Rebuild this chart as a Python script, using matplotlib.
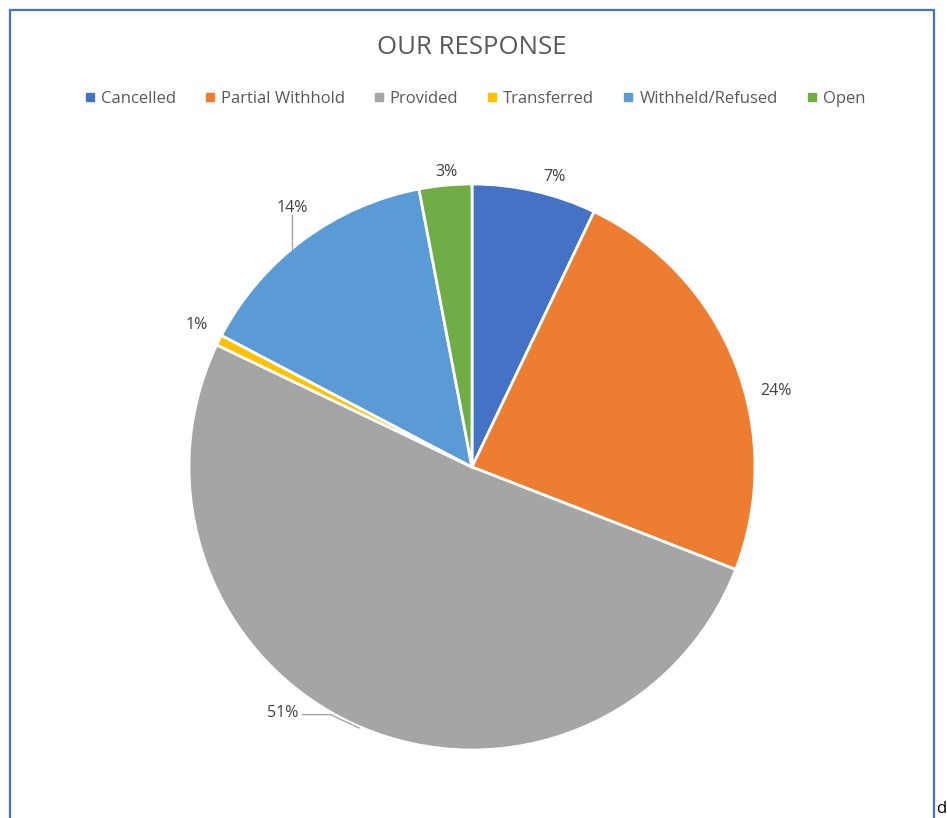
import numpy as np
import matplotlib.pyplot as plt
from matplotlib.lines import Line2D
from matplotlib.patches import Rectangle

# dati
categories = ["Cancelled", "Partial Withhold", "Provided", "Transferred", "Withheld/Refused", "Open"]
values = [7.1, 23.8, 51.2, 0.6, 14.3, 3.0]
pct_labels = ["7%", "24%", "51%", "1%", "14%", "3%"]
colors = ["#4472C4", "#ED7D31", "#A5A5A5", "#FFC000", "#5B9BD5", "#70AD47"]

# posizione etichette (spostamento angolare in gradi, raggio relativo)
label_shift = [3, 7, 15, 1, -2, 0.5]
label_r = [1.075, 1.11, 1.10, 1.10, 1.12, 1.055]

plt.rcParams['font.family'] = ['Open Sans', 'DejaVu Sans']

fig = plt.figure(figsize=(9.47, 8.18), dpi=100)

# cornice del grafico
W, H = 947, 818
fig.patches.append(Rectangle((9.5 / W, -0.05), (933.5 - 9.5) / W, 1.05 - 10.5 / H,
                             transform=fig.transFigure, fill=False,
                             edgecolor="#4472C4", linewidth=1.6))

cx, cy, R = 472, 467, 283
span = 2.4 * R
ax = fig.add_axes([(cx - span / 2) / W, (H - cy - span / 2) / H, span / W, span / H])
ax.pie(values, colors=colors, startangle=90, counterclock=False, radius=1.0,
       wedgeprops=dict(edgecolor="white", linewidth=2))
ax.set_xlim(-1.2, 1.2)
ax.set_ylim(-1.2, 1.2)
ax.set_aspect("equal")
ax.axis("off")

total = sum(values)
cum = np.cumsum([0] + values) / total * 360
mids = (cum[:-1] + cum[1:]) / 2


def pos(theta, r):
    t = np.radians(theta)
    return r * np.sin(t), r * np.cos(t)


lbl_kw = dict(fontsize=11.5, color="#404040")
for i, lab in enumerate(pct_labels):
    th = mids[i] + label_shift[i]
    x, y = pos(th, label_r[i])
    if i == 2:
        # etichetta 51% con linea guida
        ex, ey = pos(mids[i], 1.005)
        ax.plot([ex, -0.50, -0.60], [ey, -0.875, -0.875], color="#A6A6A6", lw=1.0)
        ax.text(-0.615, -0.87, lab, ha="right", va="center", **lbl_kw)
    elif i == 4:
        # etichetta 14% con linea guida verticale
        ex, ey = pos(mids[i] - 3.0, 1.0)
        ax.plot([ex, ex], [ey, 0.89], color="#A6A6A6", lw=1.0)
        ax.text(ex, 0.915, lab, ha="center", va="center", **lbl_kw)
    else:
        ax.text(x, y - 0.01, lab, ha="center", va="center", **lbl_kw)

fig.text(472 / W, 1 - 48 / H, "OUR RESPONSE", ha="center", va="center",
         fontsize=18.5, color="#595959")

handles = [Line2D([0], [0], marker="s", linestyle="none", markersize=6,
                  markerfacecolor=c, markeredgecolor=c) for c in colors]
fig.legend(handles, categories, loc="center", bbox_to_anchor=(475 / W, 1 - 99 / H),
           ncol=6, frameon=False, fontsize=12, handlelength=0.6, handletextpad=0.35,
           columnspacing=1.75, labelcolor="#595959")

fig.text(936 / W, 0.001, "d", ha="left", va="bottom", fontsize=12, color="black")

fig.savefig("out.png", dpi=100)
